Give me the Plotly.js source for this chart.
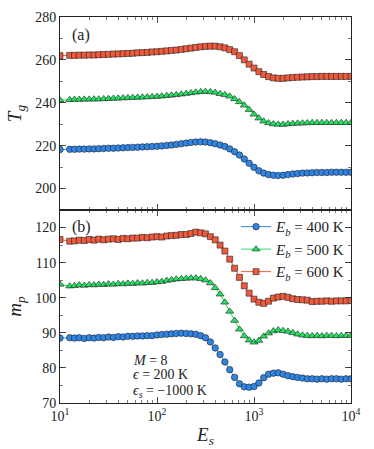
<!DOCTYPE html>
<html>
<head>
<meta charset="utf-8">
<script src="https://cdn.plot.ly/plotly-3.0.1.min.js"></script>
<style>html,body{margin:0;padding:0;background:#fff;}#chart{width:374px;height:449px;}</style>
</head>
<body>
<div id="chart"></div>
<script>
// Surface interaction energy E_s (log-spaced)
const Es = [10, 12.6, 14.1, 15.8, 17.8, 20, 22.4, 25.1, 28.2, 31.6, 35.5, 39.8, 44.7, 50.1, 56.2, 63.1, 70.8, 79.4, 89.1, 100,
  112, 126, 141, 158, 178, 200, 224, 251, 282, 316, 355, 398, 447, 501, 562, 631, 708, 794, 891, 1000,
  1122, 1259, 1413, 1585, 1778, 1995, 2239, 2512, 2818, 3162, 3548, 3981, 4467, 5012, 5623, 6310, 7079, 7943, 8913, 10000];

// Panel (a): T_g
const Tg400 = [218.2, 218.3, 218.3, 218.4, 218.4, 218.5, 218.5, 218.6, 218.7, 218.8, 218.8, 218.9, 219.0, 219.1, 219.2, 219.3, 219.4, 219.5, 219.6, 219.7,
  219.9, 220.1, 220.3, 220.6, 220.9, 221.2, 221.5, 221.7, 221.8, 221.7, 221.4, 220.9, 220.3, 219.6, 218.5, 217.2, 215.6, 213.8, 211.8, 209.9,
  208.3, 207.2, 206.5, 206.2, 206.1, 206.2, 206.5, 206.8, 207.0, 207.2, 207.3, 207.4, 207.5, 207.5, 207.5, 207.6, 207.6, 207.6, 207.6, 207.6];
const Tg500 = [241.2, 241.4, 241.5, 241.5, 241.6, 241.6, 241.7, 241.7, 241.8, 241.9, 242.0, 242.1, 242.2, 242.3, 242.4, 242.5, 242.6, 242.7, 242.8, 242.9,
  243.1, 243.3, 243.5, 243.7, 244.0, 244.3, 244.6, 244.9, 245.1, 245.2, 245.1, 244.8, 244.2, 243.7, 243.0, 241.8, 240.4, 238.8, 236.8, 234.6,
  232.8, 231.4, 230.6, 230.1, 229.9, 229.9, 230.1, 230.3, 230.4, 230.5, 230.6, 230.7, 230.7, 230.7, 230.7, 230.7, 230.7, 230.7, 230.7, 230.7];
const Tg600 = [262.0, 262.1, 262.1, 262.2, 262.2, 262.3, 262.3, 262.4, 262.5, 262.6, 262.7, 262.8, 262.9, 263.0, 263.1, 263.3, 263.4, 263.5, 263.7, 263.8,
  264.0, 264.2, 264.4, 264.6, 264.9, 265.2, 265.5, 265.8, 266.1, 266.3, 266.4, 266.4, 266.1, 265.6, 264.8, 263.8, 262.0, 260.0, 258.0, 256.2,
  254.5, 253.2, 252.2, 251.6, 251.4, 251.4, 251.6, 251.8, 251.9, 252.0, 252.1, 252.2, 252.2, 252.3, 252.3, 252.3, 252.3, 252.3, 252.3, 252.3];

// Panel (b): m_p
const mp400 = [88.5, 88.6, 88.5, 88.6, 88.4, 88.6, 88.5, 88.7, 88.6, 88.8, 88.7, 88.9, 88.8, 89.0, 89.0, 89.1, 89.1, 89.2, 89.2, 89.4,
  89.5, 89.6, 89.7, 89.8, 89.9, 89.8, 89.7, 89.6, 89.2, 88.6, 87.4, 85.7, 83.8, 81.7, 79.5, 77.3, 75.5, 74.6, 74.5, 74.7,
  75.7, 77.2, 78.2, 78.5, 78.6, 78.2, 77.8, 77.5, 77.3, 77.1, 76.9, 76.9, 76.8, 76.9, 76.8, 76.9, 76.9, 76.8, 76.9, 76.9];
const mp500 = [103.8, 103.3, 103.4, 103.6, 103.5, 103.7, 103.6, 103.8, 103.7, 103.9, 103.8, 104.0, 103.9, 104.1, 104.0, 104.2, 104.1, 104.3, 104.3, 104.5,
  104.6, 104.9, 105.1, 105.3, 105.4, 105.5, 105.6, 105.6, 105.4, 105.0, 104.2, 102.8, 101.0, 98.7, 96.1, 93.5, 91.0, 89.1, 87.9, 87.3,
  87.8, 89.0, 89.9, 90.5, 90.8, 90.6, 90.4, 90.0, 89.6, 89.3, 89.2, 89.1, 89.2, 89.1, 89.2, 89.2, 89.1, 89.2, 89.2, 89.2];
const mp600 = [116.6, 116.1, 116.2, 116.4, 116.3, 116.6, 116.4, 116.7, 116.5, 116.7, 116.8, 116.6, 116.9, 116.8, 117.0, 117.0, 117.2, 117.1, 117.3, 117.4,
  117.3, 117.6, 117.7, 117.8, 118.0, 118.0, 118.3, 118.7, 118.5, 118.2, 117.4, 116.5, 115.0, 113.3, 111.0, 108.4, 105.8, 103.4, 101.3, 99.6,
  98.7, 98.4, 99.0, 99.9, 100.2, 100.4, 100.1, 99.7, 99.5, 99.4, 99.3, 98.9, 99.0, 99.0, 99.1, 99.0, 99.1, 99.1, 99.1, 99.2];

const seriesNames = ['<i>E</i><sub><i>b</i></sub> = 400 K', '<i>E</i><sub><i>b</i></sub> = 500 K', '<i>E</i><sub><i>b</i></sub> = 600 K'];
const xTickVals = [10, 100, 1000, 10000];
const xTickText = ['10<sup>1</sup>', '10<sup>2</sup>', '10<sup>3</sup>', '10<sup>4</sup>'];
const xMinorVals = [20,30,40,50,60,70,80,90,200,300,400,500,600,700,800,900,2000,3000,4000,5000,6000,7000,8000,9000];

const colors = ['#2f84e4', '#22e060', '#f05a3c'];
const symbols = ['circle', 'triangle-up', 'square'];
const sizes = [6.5, 7, 6];

function tr(y, i, xa, ya, show) {
  return {
    x: Es, y: y, xaxis: xa, yaxis: ya, type: 'scatter', mode: 'lines+markers',
    name: seriesNames[i], showlegend: show,
    line: {color: colors[i], width: 1},
    marker: {symbol: symbols[i], size: sizes[i], color: colors[i], line: {color: '#222', width: 0.6}}
  };
}

const data = [
  tr(Tg400, 0, 'x', 'y', false), tr(Tg500, 1, 'x', 'y', false), tr(Tg600, 2, 'x', 'y', false),
  tr(mp400, 0, 'x2', 'y2', true), tr(mp500, 1, 'x2', 'y2', true), tr(mp600, 2, 'x2', 'y2', true)
];

const font = {family: 'Liberation Serif, DejaVu Serif, serif', size: 14, color: '#222'};
const axBase = {
  showline: true, linecolor: '#222', linewidth: 1, mirror: 'allticks',
  ticks: 'inside', ticklen: 6, tickwidth: 0.8, tickcolor: '#222',
  showgrid: false, zeroline: false
};
const xBase = Object.assign({}, axBase, {
  type: 'log', range: [1, 4], tickmode: 'array', tickvals: xTickVals, ticktext: xTickText,
  minor: {tickmode: 'array', tickvals: xMinorVals, ticks: 'inside', ticklen: 3, tickwidth: 0.6, tickcolor: '#222', showgrid: false}
});

const annFont = {family: font.family, size: 14, color: '#222'};

const layout = {
  width: 374, height: 449,
  margin: {l: 60, r: 23, t: 17, b: 46},
  paper_bgcolor: '#fff', plot_bgcolor: '#fff',
  font: font,
  showlegend: true,
  legend: {x: 0.605, y: 0.499, xanchor: 'left', yanchor: 'top', bgcolor: 'rgba(0,0,0,0)',
    font: {family: font.family, size: 15, color: '#222'}, itemwidth: 30, tracegroupgap: 0},
  xaxis: Object.assign({}, xBase, {domain: [0, 1], anchor: 'y', showticklabels: false}),
  xaxis2: Object.assign({}, xBase, {domain: [0, 1], anchor: 'y2', matches: 'x',
    title: {text: '<i>E</i><sub><i>s</i></sub>', font: {family: font.family, size: 19, color: '#222'}, standoff: 4}}),
  yaxis: Object.assign({}, axBase, {domain: [0.5, 1], range: [190, 280], tickvals: [200, 220, 240, 260, 280],
    minor: {dtick: 10, ticks: 'inside', ticklen: 3, tickwidth: 0.6, tickcolor: '#222', showgrid: false},
    title: {text: '<i>T</i><sub><i>g</i></sub>', font: {family: font.family, size: 19, color: '#222'}, standoff: 8}}),
  yaxis2: Object.assign({}, axBase, {domain: [0, 0.5], range: [70, 125], tickvals: [70, 80, 90, 100, 110, 120],
    minor: {dtick: 5, ticks: 'inside', ticklen: 3, tickwidth: 0.6, tickcolor: '#222', showgrid: false},
    title: {text: '<i>m</i><sub><i>p</i></sub>', font: {family: font.family, size: 19, color: '#222'}, standoff: 8}}),
  annotations: [
    {text: '(a)', xref: 'paper', yref: 'paper', x: 0.035, y: 0.953, xanchor: 'left', yanchor: 'middle', showarrow: false, font: {family: font.family, size: 16, color: '#222'}},
    {text: '(b)', xref: 'paper', yref: 'paper', x: 0.035, y: 0.457, xanchor: 'left', yanchor: 'middle', showarrow: false, font: {family: font.family, size: 16, color: '#222'}},
    {text: '<i>M</i> = 8', xref: 'paper', yref: 'paper', x: 0.245, y: 0.110, xanchor: 'left', yanchor: 'middle', showarrow: false, font: annFont},
    {text: '<i>ϵ</i> = 200 K', xref: 'paper', yref: 'paper', x: 0.245, y: 0.073, xanchor: 'left', yanchor: 'middle', showarrow: false, font: annFont},
    {text: '<i>ϵ</i><sub><i>s</i></sub> = −1000 K', xref: 'paper', yref: 'paper', x: 0.245, y: 0.030, xanchor: 'left', yanchor: 'middle', showarrow: false, font: annFont}
  ]
};

Plotly.newPlot('chart', data, layout, {staticPlot: true, displayModeBar: false});
</script>
</body>
</html>
